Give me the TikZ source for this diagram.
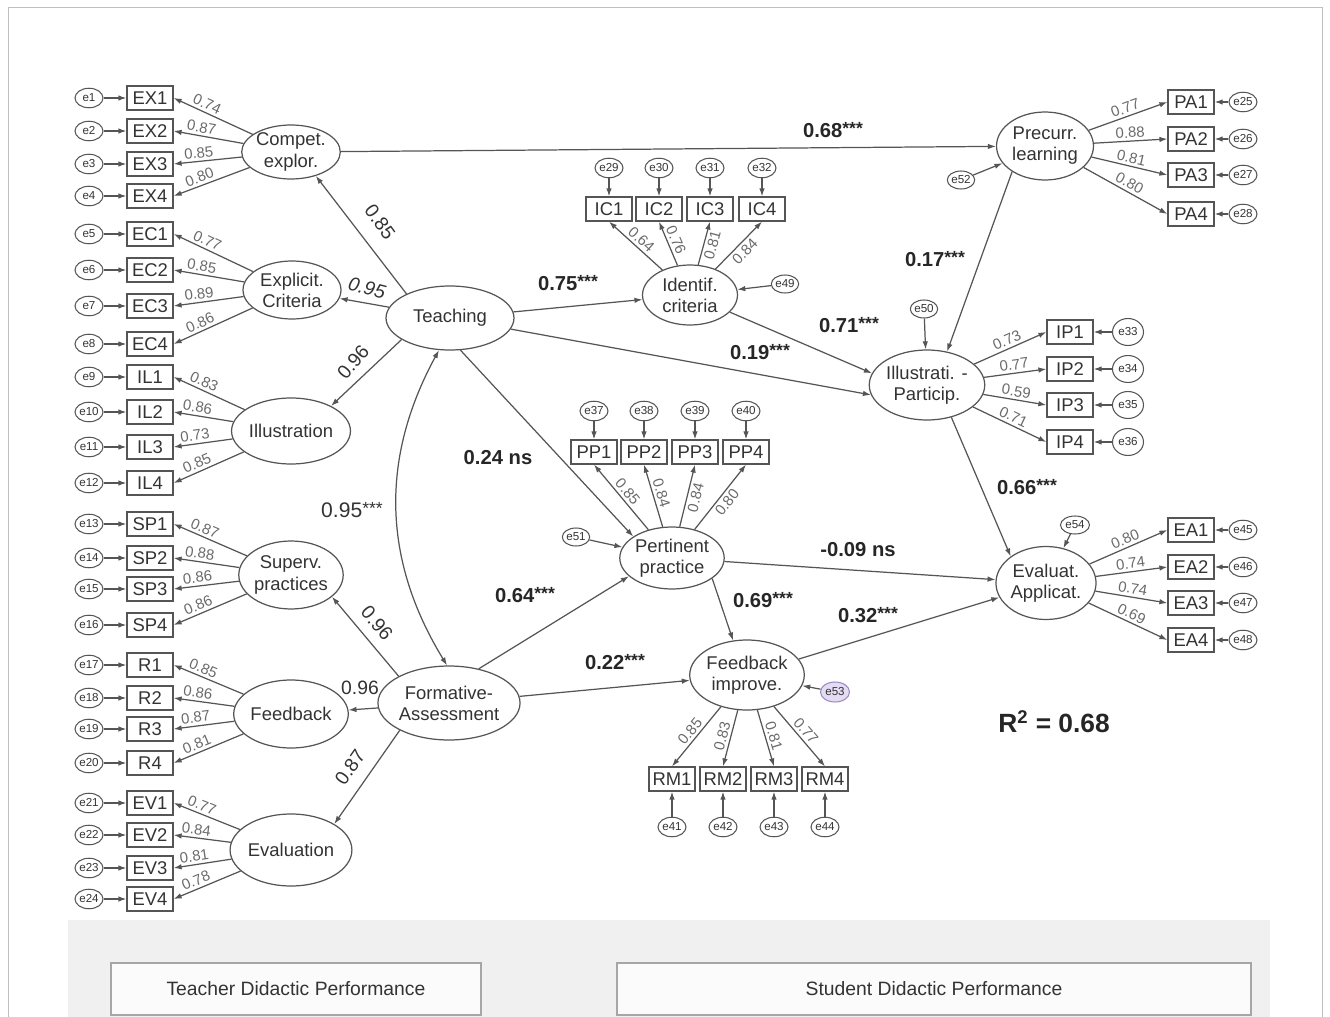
\documentclass[tikz,border=0pt]{standalone}
\usepackage{fontspec}
\setmainfont{Liberation Sans}
\usetikzlibrary{shapes.geometric,arrows.meta}
\definecolor{linec}{HTML}{555555}
\definecolor{txtc}{HTML}{333333}
\definecolor{loadc}{HTML}{6A6A6A}
\definecolor{panelc}{HTML}{F0F0F0}
\definecolor{errfill}{HTML}{E4DCF2}
\definecolor{errline}{HTML}{9B8AC4}
\newcommand{\stars}{\raisebox{0.25ex}{\fontsize{10}{12}\selectfont***}}

\begin{document}
\begin{tikzpicture}[x=0.02cm, y=-0.02cm,
  >={Latex[length=1.6mm,width=1.1mm]},
  lat/.style={ellipse, draw=linec, line width=0.7pt, inner sep=0pt,
              align=center, text=txtc, font=\fontsize{10.5}{12}\selectfont},
  obs/.style={rectangle, draw=linec, line width=0.7pt, minimum width=9.2mm,
              minimum height=4.8mm, inner sep=1pt, text=txtc,
              font=\fontsize{10.5}{12}\selectfont},
  err/.style={ellipse, draw=linec, line width=0.6pt, minimum width=5.6mm,
              minimum height=3.9mm, inner sep=0pt, text=txtc,
              font=\fontsize{6.6}{7}\selectfont},
  errb/.style={err, minimum width=6.2mm, minimum height=5.4mm},
  arr/.style={->, line width=0.7pt, draw=linec},
  load/.style={text=loadc, inner sep=1.5pt, font=\fontsize{8.5}{10}\selectfont},
  coef/.style={text=black!85, font=\fontsize{11.5}{13}\selectfont\bfseries},
  sec/.style={text=txtc, font=\fontsize{11}{13}\selectfont},
  legend/.style={rectangle, draw=gray!70, line width=0.8pt, fill=gray!3,
                 minimum height=10.4mm, text=txtc,
                 font=\fontsize{11}{13}\selectfont}
]
  \useasboundingbox (0,0) rectangle (1330,1017);
  \draw[gray!50, line width=0.5pt] (8,1017) -- (8,7) -- (1322,7) -- (1322,1017);

  % Teacher side latents
  \node[lat, minimum width=19.6mm, minimum height=10.8mm] (compet) at (291,152) {Compet.\\explor.};
  \node[lat, minimum width=19.6mm, minimum height=11.6mm] (explic) at (292,290) {Explicit.\\Criteria};
  \node[lat, minimum width=19.2mm, minimum height=13.2mm] (illu) at (291,431) {Illustration};
  \node[lat, minimum width=19.2mm, minimum height=13.6mm] (superv) at (291,575) {Superv.\\practices};
  \node[lat, minimum width=19.4mm, minimum height=13.6mm] (feedb) at (291,714) {Feedback};
  \node[lat, minimum width=19.2mm, minimum height=14.4mm] (evalu) at (291,850) {Evaluation};
  \node[lat, minimum width=25.6mm, minimum height=12.8mm] (teach) at (450,318) {Teaching};
  \node[lat, minimum width=25.6mm, minimum height=14.8mm] (form) at (449,703) {Formative-\\Assessment};

  % Student side latents
  \node[lat, minimum width=19mm, minimum height=12mm] (ident) at (690,295) {Identif.\\criteria};
  \node[lat, minimum width=19.8mm, minimum height=12.4mm] (pert) at (672,558) {Pertinent\\practice};
  \node[lat, minimum width=20.2mm, minimum height=14mm] (fbimp) at (747,675) {Feedback\\improve.};
  \node[lat, minimum width=20mm, minimum height=14mm] (illpart) at (927,385) {Illustrati. -\\Particip.};
  \node[lat, minimum width=19.4mm, minimum height=13.6mm] (precur) at (1045,146) {Precurr.\\learning};
  \node[lat, minimum width=19.8mm, minimum height=14.6mm] (evalap) at (1046,583) {Evaluat.\\Applicat.};

  % Left indicators
  \foreach \n/\lab/\py/\lat/\ld in {
    1/EX1/98/compet/0.74, 2/EX2/131/compet/0.87, 3/EX3/164/compet/0.85, 4/EX4/196/compet/0.80,
    5/EC1/234/explic/0.77, 6/EC2/270/explic/0.85, 7/EC3/306/explic/0.89, 8/EC4/344/explic/0.86,
    9/IL1/377/illu/0.83, 10/IL2/412/illu/0.86, 11/IL3/447/illu/0.73, 12/IL4/483/illu/0.85,
    13/SP1/524/superv/0.87, 14/SP2/558/superv/0.88, 15/SP3/589/superv/0.86, 16/SP4/625/superv/0.86,
    17/R1/665/feedb/0.85, 18/R2/698/feedb/0.86, 19/R3/729/feedb/0.87, 20/R4/763/feedb/0.81,
    21/EV1/803/evalu/0.77, 22/EV2/835/evalu/0.84, 23/EV3/868/evalu/0.81, 24/EV4/899/evalu/0.78} {
    \node[obs] (x\n) at (150,\py) {\lab};
    \node[err] (e\n) at (89,\py) {e\n};
    \draw[arr] (e\n) -- (x\n);
    \draw[arr] (\lat) -- node[load, pos=0.62, sloped, above] {\ld} (x\n.east);
  }

  % Right indicators
  \foreach \n/\lab/\py/\lat/\ld in {
    25/PA1/102/precur/0.77, 26/PA2/139/precur/0.88, 27/PA3/175/precur/0.81, 28/PA4/214/precur/0.80,
    45/EA1/530/evalap/0.80, 46/EA2/567/evalap/0.74, 47/EA3/603/evalap/0.74, 48/EA4/640/evalap/0.69} {
    \node[obs] (x\n) at (1191,\py) {\lab};
    \node[err] (e\n) at (1243,\py) {e\n};
    \draw[arr] (e\n) -- (x\n);
    \draw[arr] (\lat) -- node[load, pos=0.5, sloped, above] {\ld} (x\n.west);
  }
  \foreach \n/\lab/\py/\ld in {33/IP1/332/0.73, 34/IP2/369/0.77, 35/IP3/405/0.59, 36/IP4/442/0.71} {
    \node[obs] (x\n) at (1070,\py) {\lab};
    \node[errb] (e\n) at (1128,\py) {e\n};
    \draw[arr] (e\n) -- (x\n);
    \draw[arr] (illpart) -- node[load, pos=0.5, sloped, above] {\ld} (x\n.west);
  }

  % Top and bottom indicators
  \foreach \n/\lab/\px/\an/\ld in {29/IC1/609/south/0.64, 30/IC2/659/south/0.76,
                                   31/IC3/710/north/0.81, 32/IC4/762/north/0.84} {
    \node[obs] (x\n) at (\px,209) {\lab};
    \node[err] (e\n) at (\px,168) {e\n};
    \draw[arr] (e\n) -- (x\n);
    \draw[arr] (ident) -- node[load, pos=0.5, sloped, anchor=\an] {\ld} (x\n.south);
  }
  \foreach \n/\lab/\px/\an/\ld in {37/PP1/594/south/0.85, 38/PP2/644/south/0.84,
                                   39/PP3/695/north/0.84, 40/PP4/746/north/0.80} {
    \node[obs] (x\n) at (\px,452) {\lab};
    \node[err] (e\n) at (\px,411) {e\n};
    \draw[arr] (e\n) -- (x\n);
    \draw[arr] (pert) -- node[load, pos=0.5, sloped, anchor=\an] {\ld} (x\n.south);
  }
  \foreach \n/\lab/\px/\ld in {41/RM1/672/0.85, 42/RM2/723/0.83, 43/RM3/774/0.81, 44/RM4/825/0.77} {
    \node[obs] (x\n) at (\px,779) {\lab};
    \node[err] (e\n) at (\px,827) {e\n};
    \draw[arr] (e\n) -- (x\n);
    \draw[arr] (fbimp) -- node[load, pos=0.5, sloped, above] {\ld} (x\n.north);
  }

  % Structural errors
  \node[err, minimum width=5.4mm, minimum height=3.6mm] (e49) at (785,284) {e49};
  \node[err, minimum width=5.4mm, minimum height=3.6mm] (e50) at (924,309) {e50};
  \node[err, minimum width=5.4mm, minimum height=3.6mm] (e51) at (576,537) {e51};
  \node[err, minimum width=5.4mm, minimum height=3.6mm] (e52) at (961,180) {e52};
  \node[err, minimum width=5.8mm, minimum height=4mm, fill=errfill, draw=errline] (e53) at (835,692) {e53};
  \node[err, minimum width=5.8mm, minimum height=3.6mm] (e54) at (1075,525) {e54};
  \draw[arr] (e49) -- (ident);
  \draw[arr] (e50) -- (illpart);
  \draw[arr] (e51) -- (pert);
  \draw[arr] (e52) -- (precur);
  \draw[arr] (e53) -- (fbimp);
  \draw[arr] (e54) -- (evalap);

  % Second-order loadings
  \draw[arr] (teach.151) -- (compet.-44);
  \draw[arr] (teach) -- (explic);
  \draw[arr] (teach.204) -- (illu.32);
  \draw[arr] (form.152) -- (superv.-28);
  \draw[arr] (form) -- (feedb);
  \draw[arr] (form.209) -- (evalu.31);
  \draw[<->, line width=0.7pt, draw=linec] (teach.251) to[bend right=30] (form.93);
  \node[sec, rotate=-54] (l85) at (380,222) {0.85};
  \node[sec, rotate=-15, font=\fontsize{11}{13}\selectfont\itshape] (l95) at (367,288) {0.95};
  \node[sec, rotate=50] (l96a) at (353,362) {0.96};
  \node[sec, rotate=-50] (l96b) at (377,623) {0.96};
  \node[sec] (l96c) at (360,688) {0.96};
  \node[sec, rotate=55] (l87) at (350,767) {0.87};
  \node[sec, font=\fontsize{12}{14}\selectfont] (lcor) at (352,510) {0.95\stars};

  % Structural paths
  \draw[arr] (compet) -- (precur);
  \draw[arr] (teach) -- (ident);
  \draw[arr] (teach) -- (illpart.190);
  \draw[arr] (teach.288) -- (pert.151);
  \draw[arr] (form.49) -- (pert.203);
  \draw[arr] (form) -- (fbimp);
  \draw[arr] (ident) -- (illpart.168);
  \draw[arr] (precur.218) -- (illpart.59);
  \draw[arr] (illpart.-53) -- (evalap.143);
  \draw[arr] (pert) -- (evalap);
  \draw[arr] (pert.-27) -- (fbimp.112);
  \draw[arr] (fbimp) -- (evalap);

  \node[coef] (lcp) at (833,130) {0.68\stars};
  \node[coef] (lti) at (568,283) {0.75\stars};
  \node[coef] (lpi) at (935,259) {0.17\stars};
  \node[coef] (lii) at (849,325) {0.71\stars};
  \node[coef] (ltip) at (760,352) {0.19\stars};
  \node[coef] (ltp) at (498,458) {0.24 ns};
  \node[coef] (lie) at (1027,487) {0.66\stars};
  \node[coef] (lpe) at (858,550) {-0.09 ns};
  \node[coef] (lfp) at (525,595) {0.64\stars};
  \node[coef] (lpf) at (763,600) {0.69\stars};
  \node[coef] (lfe) at (868,615) {0.32\stars};
  \node[coef] (lff) at (615,662) {0.22\stars};
  \node[coef, font=\fontsize{15}{17}\selectfont\bfseries] (rsq) at (1054,722) {R\textsuperscript{2} = 0.68};

  % Legend panel
  \fill[panelc] (68,920) rectangle (1270,1017);
  \node[legend, minimum width=74mm] (teacher) at (296,989) {Teacher Didactic Performance};
  \node[legend, minimum width=126.8mm] (student) at (934,989) {Student Didactic Performance};
\end{tikzpicture}
\end{document}
